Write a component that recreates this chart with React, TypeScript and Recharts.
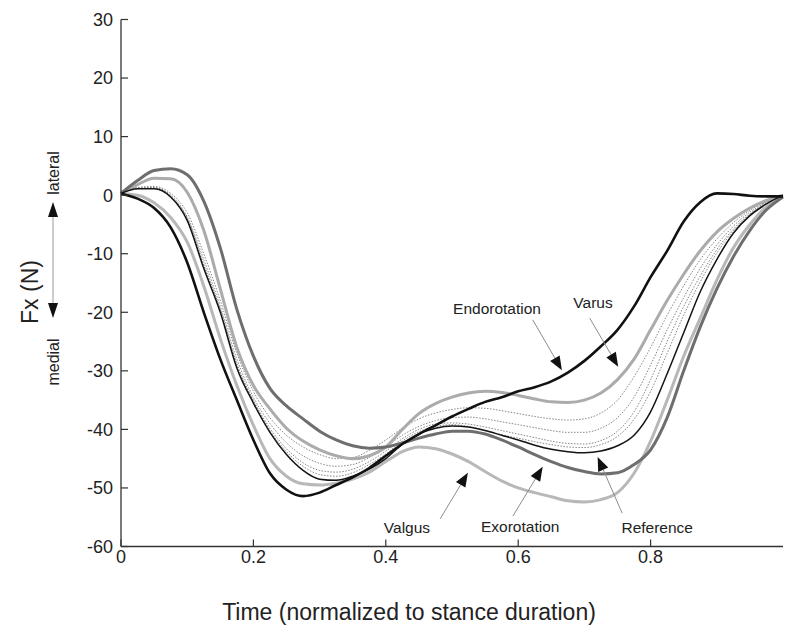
import React from 'react'
import { LineChart, Line, XAxis, YAxis, ReferenceLine, ReferenceDot } from 'recharts'

const FONT = "'Liberation Sans', Arial, sans-serif"

// normalized stance time
const time = [
  0, 0.025, 0.05, 0.075, 0.1, 0.125, 0.15, 0.175, 0.2, 0.225, 0.25, 0.275, 0.3, 0.325, 0.35,
  0.375, 0.4, 0.425, 0.45, 0.475, 0.5, 0.525, 0.55, 0.575, 0.6, 0.625, 0.65, 0.675, 0.7,
  0.725, 0.75, 0.775, 0.8, 0.825, 0.85, 0.875, 0.9, 0.925, 0.95, 0.975, 1,
]

const endorotation = [
  0.3, -0.6, -2.2, -5.5, -11.5, -20, -28, -35, -41.8, -47.5, -50.3, -51.4, -50.8, -49.5, -48.2,
  -46.6, -44.5, -42.5, -40.8, -39.3, -37.8, -36.5, -35.3, -34.5, -33.5, -32.8, -31.8, -30.3, -28.3,
  -25.8, -23, -19, -14, -9.5, -4.5, -1.2, 0.3, 0.2, -0.1, -0.2, -0.2,
]
const valgus = [
  0.3, 0, -1.3, -3.8, -8, -15.5, -24.5, -32.5, -39.3, -45, -48, -49.3, -49.5, -49.2, -48.5,
  -47.3, -45.5, -43.8, -43, -43.3, -44.2, -45.5, -47.2, -48.8, -50, -50.8, -51.5, -52.2, -52.4,
  -52, -50.8, -47.5, -42, -35, -27.5, -21, -14.5, -9, -5, -2, -0.3,
]
const varus = [
  0.3, 1.8, 2.9, 2.8, 0.5, -6, -16, -26, -32.5, -36.5, -39.8, -42, -43.5, -44.5, -45,
  -44.5, -43, -40, -37.3, -35.6, -34.5, -33.8, -33.5, -33.7, -34.2, -34.8, -35.3, -35.4, -35,
  -33.8, -31.5, -28, -23, -18, -13.5, -9.5, -6.3, -4, -2.2, -0.9, 0,
]
const exorotation = [
  0.3, 2.5, 4.2, 4.5, 3.5, -1, -9, -19.5, -27.5, -33, -36, -38.2, -40.3, -41.8, -42.8,
  -43.2, -43, -42.3, -41.5, -40.8, -40.3, -40.3, -40.8, -41.8, -43, -44.3, -45.5, -46.5, -47.2,
  -47.6, -47.4, -46, -43.5, -38, -30, -22.5, -16, -10.5, -6, -2.5, -0.3,
]
const reference = [
  0.3, 1.1, 1.1, -0.3, -4.3, -12.5, -20, -29.5, -35.5, -40.5, -44.3, -47, -48.5, -48.7, -48,
  -46.8, -45, -42.5, -40.8, -39.8, -39.4, -39.6, -40.2, -41, -41.8, -42.7, -43.4, -43.8, -44,
  -43.7, -42.8, -41, -37, -30.5, -23.5, -16.5, -11, -6.5, -3.5, -1.5, 0,
]
// intermediate conditions (dotted)
const mid1 = [
  0.3, 1.3, 1.5, 0.3, -3, -10, -18, -27, -33.5, -38, -41, -43, -44.3, -45, -44.8,
  -43.6, -41.8, -39.8, -38.2, -37.2, -36.6, -36.3, -36.4, -36.8, -37.3, -37.8, -38.2, -38.4, -38.2,
  -37.2, -35, -31, -26, -20.5, -15.5, -11, -7.5, -4.7, -2.6, -1.1, 0,
]
const mid2 = [
  0.3, 1.2, 1.3, 0, -3.7, -11, -19, -28, -34.5, -39, -42.3, -44.5, -45.8, -46.3, -46,
  -44.8, -43, -41, -39.5, -38.5, -38, -37.9, -38.2, -38.7, -39.2, -39.7, -40.2, -40.5, -40.5,
  -39.8, -38, -34.5, -29, -23, -17.5, -12.5, -8.5, -5.3, -2.9, -1.2, 0,
]
const mid3 = [
  0.3, 1.1, 1.2, -0.2, -4, -11.8, -19.5, -28.8, -35, -39.8, -43.3, -45.7, -47, -47.3, -46.8,
  -45.5, -43.7, -41.6, -40, -39.1, -38.9, -39.1, -39.6, -40.2, -40.8, -41.4, -42, -42.4, -42.5,
  -41.9, -40.3, -37, -31.5, -25, -19, -13.8, -9.3, -5.8, -3.2, -1.3, 0,
]
const mid4 = [
  0.3, 1.2, 1.2, -0.2, -4.1, -12, -19.8, -29, -35.2, -40.2, -43.8, -46.3, -47.7, -48, -47.4,
  -46, -44.2, -42, -40.4, -39.5, -39.2, -39.5, -40.2, -40.9, -41.5, -42.1, -42.6, -43, -43.1,
  -42.6, -41.2, -38.3, -33.5, -27, -20.5, -14.8, -9.9, -6.1, -3.3, -1.4, 0,
]

const xTicks = [0, 0.2, 0.4, 0.6, 0.8]
const yTicks = [-60, -50, -40, -30, -20, -10, 0, 10, 20, 30]

// label position, arrow start, arrow tip (data units)
const notes = [
  { text: 'Endorotation', label: [0.568, -19.3], from: [0.622, -21.3], tip: [0.666, -29.9] },
  { text: 'Varus', label: [0.713, -18.4], from: [0.708, -21], tip: [0.751, -29.3] },
  { text: 'Valgus', label: [0.432, -56.8], from: [0.482, -55.3], tip: [0.524, -47.4] },
  { text: 'Exorotation', label: [0.603, -56.5], from: [0.592, -54.8], tip: [0.637, -46.4] },
  { text: 'Reference', label: [0.81, -56.7], from: [0.757, -54.3], tip: [0.72, -44.7] },
]

const data = time.map((t, i) => ({
  t,
  endorotation: endorotation[i],
  valgus: valgus[i],
  varus: varus[i],
  exorotation: exorotation[i],
  reference: reference[i],
  mid1: mid1[i],
  mid2: mid2[i],
  mid3: mid3[i],
  mid4: mid4[i],
}))

function Arrow(p: any) {
  const { x1, y1, x2, y2 } = p
  const dx = x2 - x1
  const dy = y2 - y1
  const len = Math.hypot(dx, dy) || 1
  const ux = dx / len
  const uy = dy / len
  const hl = 14
  const hw = 5.5
  const bx = x2 - ux * hl
  const by = y2 - uy * hl
  return (
    <g>
      <line x1={x1} y1={y1} x2={bx} y2={by} stroke="#8c8c8c" strokeWidth={1} />
      <polygon
        points={`${x2},${y2} ${bx - uy * hw},${by + ux * hw} ${bx + uy * hw},${by - ux * hw}`}
        fill="#111"
      />
    </g>
  )
}

function XTitle() {
  return (
    <text x={409} y={620} textAnchor="middle" fontSize={23} fontFamily={FONT} fill="#222">
      Time (normalized to stance duration)
    </text>
  )
}

function YTitle() {
  return (
    <g fontFamily={FONT} fill="#222">
      <text transform="translate(30,292) rotate(-90)" textAnchor="middle" dominantBaseline="central" fontSize={23}>
        Fx (N)
      </text>
      <text transform="translate(53,173) rotate(-90)" textAnchor="middle" dominantBaseline="central" fontSize={16}>
        lateral
      </text>
      <text transform="translate(53,362) rotate(-90)" textAnchor="middle" dominantBaseline="central" fontSize={16}>
        medial
      </text>
      <line x1={53} y1={216} x2={53} y2={304} stroke="#999" strokeWidth={1} />
      <polygon points="53,202 48,217 58,217" fill="#111" />
      <polygon points="53,318 48,303 58,303" fill="#111" />
    </g>
  )
}

const axisLine = { stroke: '#333', strokeWidth: 1.3 }
const tickLine = { stroke: '#333', strokeWidth: 1.2 }
const tickStyle = { fill: '#222', fontSize: 18, fontFamily: FONT }

export default function App() {
  return (
    <div style={{ position: 'absolute', left: 0, top: 0, width: 785, height: 630, background: '#fff' }}>
      <LineChart width={785} height={630} data={data} margin={{ top: 19.5, right: 2, bottom: 0, left: 0 }}>
        <XAxis
          dataKey="t"
          type="number"
          domain={[0, 1]}
          ticks={xTicks}
          height={83.5}
          tickSize={-7}
          tickMargin={11}
          axisLine={axisLine}
          tickLine={tickLine}
          tick={tickStyle}
          label={<XTitle />}
        />
        <XAxis
          xAxisId="top"
          orientation="top"
          type="number"
          domain={[0, 1]}
          ticks={xTicks}
          height={0}
          tickSize={-7}
          axisLine={axisLine}
          tickLine={tickLine}
          tick={false}
        />
        <YAxis
          type="number"
          domain={[-60, 30]}
          ticks={yTicks}
          width={121}
          tickSize={-7}
          tickMargin={15}
          axisLine={axisLine}
          tickLine={tickLine}
          tick={tickStyle}
          label={<YTitle />}
        />
        <YAxis
          yAxisId="right"
          orientation="right"
          type="number"
          domain={[-60, 30]}
          ticks={yTicks}
          width={0}
          tickSize={-7}
          axisLine={false}
          tickLine={tickLine}
          tick={false}
        />

        {['mid1', 'mid2', 'mid3', 'mid4'].map((k) => (
          <Line
            key={k}
            dataKey={k}
            type="monotone"
            stroke="#777"
            strokeWidth={0.9}
            strokeDasharray="1.5 1.5"
            dot={false}
            activeDot={false}
            isAnimationActive={false}
          />
        ))}
        <Line dataKey="valgus" type="monotone" stroke="#b8b8b8" strokeWidth={3} dot={false} activeDot={false} isAnimationActive={false} />
        <Line dataKey="varus" type="monotone" stroke="#ababab" strokeWidth={3} dot={false} activeDot={false} isAnimationActive={false} />
        <Line dataKey="exorotation" type="monotone" stroke="#6e6e6e" strokeWidth={3} dot={false} activeDot={false} isAnimationActive={false} />
        <Line dataKey="reference" type="monotone" stroke="#141414" strokeWidth={1.5} dot={false} activeDot={false} isAnimationActive={false} />
        <Line dataKey="endorotation" type="monotone" stroke="#111" strokeWidth={2.6} dot={false} activeDot={false} isAnimationActive={false} />

        {notes.map((n) => (
          <ReferenceLine
            key={n.text + '-arrow'}
            segment={[
              { x: n.from[0], y: n.from[1] },
              { x: n.tip[0], y: n.tip[1] },
            ]}
            shape={Arrow}
          />
        ))}
        {notes.map((n) => (
          <ReferenceDot
            key={n.text}
            x={n.label[0]}
            y={n.label[1]}
            r={0}
            shape={(p: any) => (
              <text
                x={p.cx}
                y={p.cy}
                textAnchor="middle"
                dominantBaseline="central"
                fontSize={15.5}
                fontFamily={FONT}
                fill="#222"
              >
                {n.text}
              </text>
            )}
          />
        ))}
      </LineChart>
    </div>
  )
}
